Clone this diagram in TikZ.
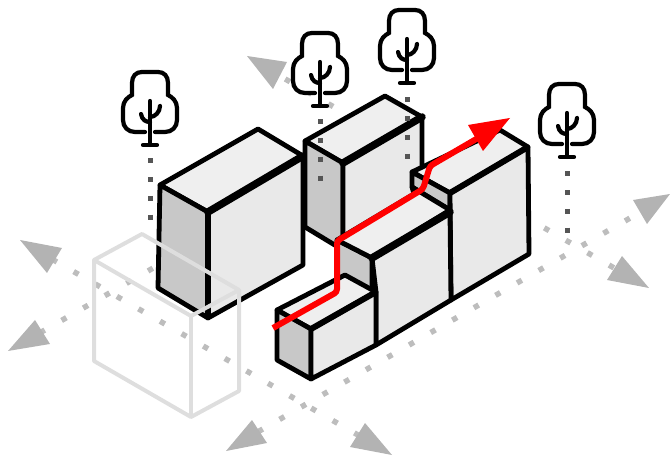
\documentclass[tikz,border=0pt]{standalone}
\usetikzlibrary{calc}

\definecolor{topgray}{HTML}{EFEFEF}
\definecolor{sidegray}{HTML}{E9E9E9}
\definecolor{shadegray}{HTML}{C8C8C8}
\definecolor{ghostgray}{HTML}{DEDEDE}
\definecolor{roadgray}{HTML}{BDBDBD}
\definecolor{tipgray}{HTML}{B3B3B3}
\definecolor{stemgray}{HTML}{555555}

\tikzset{
  edge/.style={line width=4.8pt, line join=round, line cap=round},
  ridge/.style={line width=7.5pt, line cap=round},
  road/.style={roadgray, line width=5.5pt, dash pattern=on 5.5pt off 19.4pt},
  stem/.style={stemgray, line width=5pt, dash pattern=on 5pt off 13.7pt},
  ghost/.style={ghostgray, line width=4pt, line join=round},
  twig/.style={line width=4.2pt, line cap=round},
  treeicon/.pic={
    \draw[twig, fill=white] (-5,-13) -- (-15,-13)
      .. controls (-22,-13) and (-27,-18) .. (-27,-25) -- (-27,-37)
      .. controls (-27,-44) and (-22,-48) .. (-18,-50) -- (-18,-62)
      .. controls (-18,-69) and (-14,-73) .. (-8,-73) -- (8,-73)
      .. controls (14,-73) and (18,-69) .. (18,-62) -- (18,-50)
      .. controls (22,-48) and (27,-44) .. (27,-37) -- (27,-25)
      .. controls (27,-18) and (22,-13) .. (15,-13) -- (5,-13);
    \draw[twig] (0,0) -- (0,-44);
    \draw[twig] (-7,0) -- (7,0);
    \draw[twig] (-9,-31) .. controls (-8,-25) and (-4,-23) .. (0,-23);
    \draw[twig] (10,-39) .. controls (10,-33) and (5,-28) .. (0,-28);
  }
}

\begin{document}
\begin{tikzpicture}[x=1pt,y=-1pt]
\useasboundingbox (0,0) rectangle (670,457);

% The streets
\draw[road] (52.1,259.2) -- (358,435);
\draw[road] (40,332.8) -- (258,208);
\draw[road] (263.6,66.6) -- (615,268.5);
\draw[road] (258,431.8) -- (650,206.6);

% The arrow heads of the streets
\foreach \ax/\ay/\bx/\by/\cx/\cy in {20/240/62/248/47/273,
                                     8/351/35/320/50/344,
                                     247/56/287/62/273/89,
                                     226/451/252/420/267/443,
                                     392/455/365/423/350/447,
                                     649/288/622/256/607/280,
                                     670/194/633/200/647/224} {
    \fill[tipgray] (\ax,\ay) -- (\bx,\by) -- (\cx,\cy) -- cycle;
};

% The trees
\draw[stem] (150,158.5) -- (150,220);
\draw[stem] (567,171.5) -- (567,233);
\foreach \x/\y in {150/145, 320/106, 407/83, 567/157} {
    \pic at (\x,\y) {treeicon};
};

% Second block, behind the first one
\draw[edge, fill=topgray] (305,141) -- (385,96) -- (422,117) -- (343,163) -- cycle;
\draw[edge, fill=shadegray] (305,141) -- (343,163) -- (343,250) -- (305,227) -- cycle;
\draw[edge, fill=sidegray] (343,163) -- (422,117) -- (422,205) -- (343,250) -- cycle;
\draw[ridge] (343,163) -- (422,117);

% First block
\draw[edge, fill=topgray] (160,185) -- (258,129) -- (303,156) -- (208,212) -- cycle;
\draw[edge, fill=shadegray] (160,185) -- (208,212) -- (208,318) -- (158,288) -- cycle;
\draw[edge, fill=sidegray] (208,212) -- (303,156) -- (303,265) -- (208,318) -- cycle;
\draw[ridge] (208,212) -- (303,156);
\draw[line width=6pt] (208,212) -- (208,318);

% The stems over the second block
\draw[stem] (320,119.5) -- (320,181);
\draw[stem] (407,97.5) -- (407,159);

% Row of three blocks, back to front
\draw[edge, fill=topgray] (412,172) -- (500,130) -- (528,147) -- (450,193) -- cycle;
\draw[edge, fill=shadegray] (412,172) -- (450,193) -- (450,210) -- (412,187) -- cycle;
\draw[edge, fill=sidegray] (450,193) -- (528,147) -- (529,254) -- (451,300) -- cycle;
\draw[line width=6pt] (450,193) -- (528,147);

\draw[edge, fill=shadegray] (337,240) -- (372,258) -- (372,292) -- (337,282) -- cycle;
\draw[edge, fill=topgray] (337,240) -- (414,194) -- (412,187) -- (450,210) -- (372,258) -- cycle;
\draw[edge, fill=sidegray] (372,258) -- (450,213) -- (451,300) -- (376,345) -- (376,292) -- cycle;
\draw[ridge] (372,258) -- (450,212);

\draw[edge, fill=topgray] (277,310) -- (345,275) -- (376,292) -- (311,329) -- cycle;
\draw[edge, fill=shadegray] (277,310) -- (311,329) -- (311,379) -- (277,360) -- cycle;
\draw[edge, fill=sidegray] (311,329) -- (376,292) -- (376,345) -- (311,379) -- cycle;
\draw[line width=6pt] (311,329) -- (376,292);

% The block that is gone
\draw[ghost] (94,260) -- (142,234) -- (239,290) -- (191,316) -- cycle;
\draw[ghost] (94,260) -- (94,361) -- (191,417) -- (239,391) -- (239,290);
\draw[ghost] (191,316) -- (191,417);

% The way through
\draw[red, line width=6pt, rounded corners=3pt] (273,328) -- (337,292) -- (337,241)
    -- (423,189) -- (430,166) -- (478,138);
\fill[red] (510,118) -- (468,125) -- (483,151) -- cycle;
\end{tikzpicture}
\end{document}
